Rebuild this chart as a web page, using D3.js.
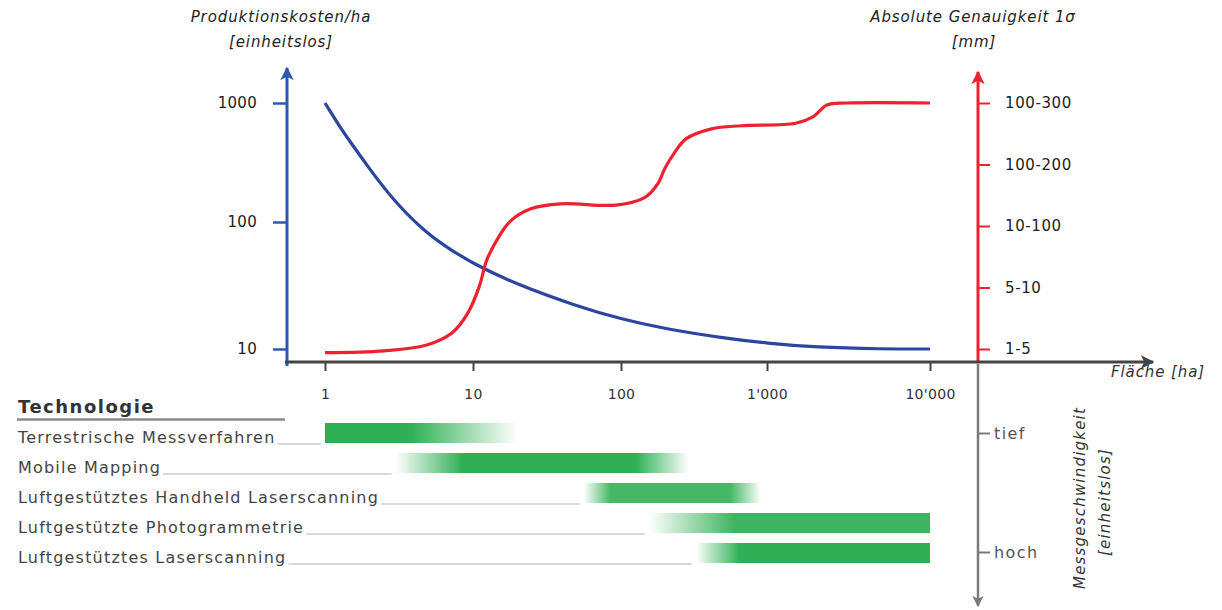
<!DOCTYPE html>
<html><head><meta charset="utf-8">
<script src="https://cdn.jsdelivr.net/npm/d3@7"></script>
<style>
body{margin:0;background:#fff}
svg{display:block}
text{font-family:"DejaVu Sans",Verdana,sans-serif}
</style>
</head><body>
<svg id="c" width="1222" height="610"></svg>
<script>
// ---------- data ----------
const areaTicks = [1, 10, 100, 1000, 10000];
const areaTickLabels = ["1", "10", "100", "1'000", "10'000"];
const costTicks = [10, 100, 1000];
const accuracyCats = ["1-5", "5-10", "10-100", "100-200", "100-300"];
const speedTicks = ["tief", "hoch"];

// Produktionskosten/ha vs. Fläche
const costArea  = [1, 1.25, 1.5, 2, 3, 5, 7, 10, 20, 50, 100, 200, 500, 1000, 2000, 5000, 10000];
const costValue = [1000, 640, 461, 279, 144, 79, 61, 47, 32, 21.8, 17.2, 14.4, 12.2, 11.1, 10.3, 10, 10];

// Absolute Genauigkeit (category position 0..4) vs. Fläche
const accArea  = [1, 2.5, 4.8, 7.2, 9.2, 11, 12.4, 14.9, 17.9, 24.6, 39, 93, 145, 178, 200, 232, 280, 417, 670, 1500, 1900, 2350, 3100, 10000];
const accLevel = [-0.06, -0.03, 0.06, 0.26, 0.58, 1.01, 1.45, 1.82, 2.08, 2.28, 2.36, 2.34, 2.46, 2.68, 2.94, 3.19, 3.42, 3.58, 3.63, 3.67, 3.77, 3.97, 4.0, 4.0];

// Technologien (Einsatzbereich in ha)
const technologies = ["Terrestrische Messverfahren", "Mobile Mapping", "Luftgestütztes Handheld Laserscanning", "Luftgestützte Photogrammetrie", "Luftgestütztes Laserscanning"];
const techFadeIn     = [1, 3, 56, 155, 325];
const techSolidStart = [1, 8.5, 85, 600, 650];
const techSolidEnd   = [3.8, 127, 560, 10000, 10000];
const techFadeOut    = [20, 290, 910, 10000, 10000];
const techColors     = ["#2fb055", "#2fb055", "#45b864", "#3fb460", "#2fb055"];

// ---------- scales ----------
const svg = d3.select("#c");
const x = d3.scaleLog().domain([1, 10, 100, 1000, 10000]).range([325, 473, 621, 767, 930]);
const yCost = d3.scaleLog().domain([10, 100, 1000]).range([349, 222, 103]);
const yAcc = d3.scaleLinear().domain([0, 4]).range([349, 103]);
const yRow = d3.scalePoint().domain(technologies).range([433, 553]);
const ySpeed = d3.scalePoint().domain(speedTicks).range([433, 552]);

const X0 = 287, Y0 = 362, XR = 978;
const BLUE = "#2d58b4", BLUE_LINE = "#2a46a0", RED = "#ec2230", GREY = "#7a7a7a";
const FONT = "'DejaVu Sans',Verdana,sans-serif";

// markers
const defs = svg.append("defs");
function marker(id, color) {
  defs.append("marker").attr("id", id).attr("viewBox", "0 0 10 10")
    .attr("refX", 9).attr("refY", 5).attr("markerWidth", 4.5).attr("markerHeight", 4.5)
    .attr("markerUnits", "strokeWidth").attr("orient", "auto")
    .append("path").attr("d", "M0,0 L10,5 L0,10 L2.5,5 Z").attr("fill", color);
}
marker("aBlue", BLUE); marker("aRed", RED); marker("aDark", "#444"); marker("aGrey", GREY);

// ---------- axes lines ----------
svg.append("line").attr("x1", X0).attr("x2", X0).attr("y1", Y0 + 4).attr("y2", 68)
  .attr("stroke", BLUE).attr("stroke-width", 3).attr("marker-end", "url(#aBlue)");
svg.append("line").attr("x1", XR).attr("x2", XR).attr("y1", Y0 + 2).attr("y2", 606)
  .attr("stroke", GREY).attr("stroke-width", 2.5).attr("marker-end", "url(#aGrey)");
svg.append("line").attr("x1", XR).attr("x2", XR).attr("y1", Y0).attr("y2", 72)
  .attr("stroke", RED).attr("stroke-width", 3).attr("marker-end", "url(#aRed)");
svg.append("line").attr("x1", X0 - 2).attr("x2", 1153).attr("y1", Y0).attr("y2", Y0)
  .attr("stroke", "#444").attr("stroke-width", 3).attr("marker-end", "url(#aDark)");

function styleTicks(g, color, size, ls) {
  g.selectAll(".tick text").attr("fill", color).style("font-size", size + "px")
    .style("font-family", FONT).style("letter-spacing", ls + "px");
}

// left cost axis
const gL = svg.append("g").attr("transform", `translate(${X0},0)`)
  .call(d3.axisLeft(yCost).tickValues(costTicks).tickFormat(d3.format("d")).tickSize(14).tickPadding(16));
gL.select(".domain").remove();
gL.selectAll(".tick line").attr("stroke", BLUE).attr("stroke-width", 2.5);
styleTicks(gL, "#222", 15, 0.3);

// bottom area axis
const gB = svg.append("g").attr("transform", `translate(0,${Y0})`)
  .call(d3.axisBottom(x).tickValues(areaTicks).tickFormat((d, i) => areaTickLabels[i]).tickSize(9).tickPadding(18));
gB.select(".domain").remove();
gB.selectAll(".tick line").attr("stroke", "#444").attr("stroke-width", 2);
styleTicks(gB, "#333", 14, 0.3);

// right accuracy axis
const gR = svg.append("g").attr("transform", `translate(${XR},0)`)
  .call(d3.axisRight(yAcc).tickValues([0, 1, 2, 3, 4]).tickFormat(i => accuracyCats[i]).tickSize(12).tickPadding(15));
gR.select(".domain").remove();
gR.selectAll(".tick line").attr("stroke", RED).attr("stroke-width", 2);
styleTicks(gR, "#222", 15, 0.6);

// speed axis
const gS = svg.append("g").attr("transform", `translate(${XR},0)`)
  .call(d3.axisRight(ySpeed).tickSize(12).tickPadding(4));
gS.select(".domain").remove();
gS.selectAll(".tick line").attr("stroke", GREY).attr("stroke-width", 2);
styleTicks(gS, "#555", 16, 1.4);

// ---------- curves ----------
const costData = costArea.map((a, i) => [a, costValue[i]]);
svg.append("path").datum(costData)
  .attr("fill", "none").attr("stroke", BLUE_LINE).attr("stroke-width", 3.2)
  .attr("d", d3.line().x(d => x(d[0])).y(d => yCost(d[1])).curve(d3.curveBasis));

const accData = accArea.map((a, i) => [a, accLevel[i]]);
svg.append("path").datum(accData)
  .attr("fill", "none").attr("stroke", RED).attr("stroke-width", 3.2)
  .attr("d", d3.line().x(d => x(d[0])).y(d => yAcc(d[1])).curve(d3.curveCatmullRom.alpha(0.5)));

// ---------- titles ----------
function txt(s, xx, yy, size, opts = {}) {
  return svg.append("text").attr("x", xx).attr("y", yy).text(s)
    .style("font-size", size + "px").attr("fill", opts.fill || "#222")
    .attr("text-anchor", opts.anchor || "middle")
    .style("font-style", opts.italic ? "italic" : "normal")
    .style("font-weight", opts.bold ? "bold" : "normal")
    .style("letter-spacing", (opts.ls || 0) + "px");
}
txt("Produktionskosten/ha", 281, 22, 15, { italic: true, ls: 0.9 });
txt("[einheitslos]", 281, 47, 15, { italic: true, ls: 0.9 });
txt("Absolute Genauigkeit 1σ", 973, 22, 15, { italic: true, ls: 0.9 });
txt("[mm]", 974, 47, 15, { italic: true, ls: 0.9 });
txt("Fläche [ha]", 1111, 377, 15, { italic: true, anchor: "start", fill: "#333", ls: 0.9 });

svg.append("text").attr("transform", "translate(1085,498) rotate(-90)").attr("text-anchor", "middle")
  .style("font-size", "15px").style("font-style", "italic").style("letter-spacing", "1.2px")
  .attr("fill", "#333").text("Messgeschwindigkeit");
svg.append("text").attr("transform", "translate(1110,502) rotate(-90)").attr("text-anchor", "middle")
  .style("font-size", "15px").style("font-style", "italic").style("letter-spacing", "1.2px")
  .attr("fill", "#333").text("[einheitslos]");

// ---------- technology table ----------
txt("Technologie", 18, 413, 18, { bold: true, anchor: "start", fill: "#333", ls: 1.5 });
svg.append("line").attr("x1", 17).attr("x2", 285).attr("y1", 419.5).attr("y2", 419.5)
  .attr("stroke", "#888").attr("stroke-width", 2.5);

technologies.forEach((t, i) => {
  const cy = yRow(t);
  const label = txt(t, 18, cy + 10, 16, { anchor: "start", fill: "#444", ls: 1.2 });
  const w = label.node().getComputedTextLength();
  svg.append("line").attr("x1", 18 + w + 2).attr("x2", x(techFadeIn[i]) - 4)
    .attr("y1", cy + 11).attr("y2", cy + 11).attr("stroke", "#ccc").attr("stroke-width", 1.5);

  const x1 = x(techFadeIn[i]), x2 = x(techFadeOut[i]);
  const off = v => (x(v) - x1) / (x2 - x1);
  const g = defs.append("linearGradient").attr("id", "gr" + i)
    .attr("gradientUnits", "userSpaceOnUse").attr("x1", x1).attr("x2", x2).attr("y1", 0).attr("y2", 0);
  const startOp = techFadeIn[i] === techSolidStart[i] ? 1 : 0;
  const endOp = techFadeOut[i] === techSolidEnd[i] ? 1 : 0;
  g.append("stop").attr("offset", 0).attr("stop-color", techColors[i]).attr("stop-opacity", startOp);
  g.append("stop").attr("offset", off(techSolidStart[i])).attr("stop-color", techColors[i]).attr("stop-opacity", 1);
  g.append("stop").attr("offset", off(techSolidEnd[i])).attr("stop-color", techColors[i]).attr("stop-opacity", 1);
  g.append("stop").attr("offset", 1).attr("stop-color", techColors[i]).attr("stop-opacity", endOp);
  svg.append("rect").attr("x", x1).attr("width", x2 - x1).attr("y", cy - 10).attr("height", 20)
    .attr("fill", `url(#gr${i})`);
});
</script>
</body></html>
